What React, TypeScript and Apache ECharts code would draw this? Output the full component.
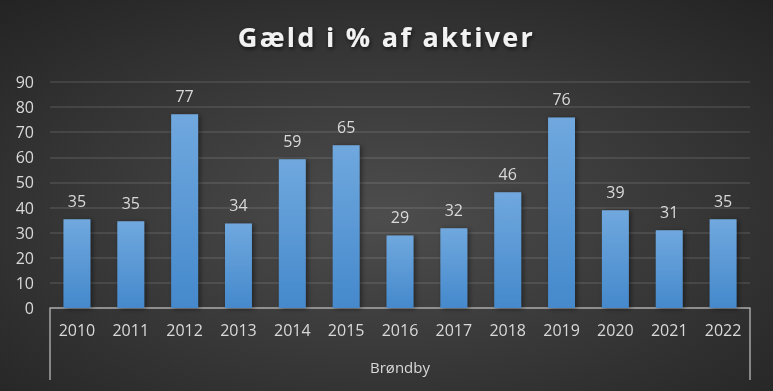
import React, { useEffect, useRef } from "react";
import * as echarts from "echarts";

const years = ["2010", "2011", "2012", "2013", "2014", "2015", "2016", "2017", "2018", "2019", "2020", "2021", "2022"];
const values = [35.3, 34.5, 77.2, 33.7, 59.2, 64.8, 28.9, 31.8, 46.1, 75.9, 38.9, 31.0, 35.3];
const groupLabel = ["Brøndby"];
const titleText = "Gæld i % af aktiver";

const FONT = "'Open Sans', 'Noto Sans', sans-serif";

export default function App() {
  const ref = useRef<HTMLDivElement>(null);
  useEffect(() => {
    if (!ref.current) return;
    const chart = echarts.init(ref.current, null, { renderer: "svg" });
    chart.setOption({
      animation: false,
      backgroundColor: {
        type: "radial",
        x: 0.5,
        y: 0.55,
        r: 0.75,
        colorStops: [
          { offset: 0, color: "#4d4d4d" },
          { offset: 1, color: "#232323" },
        ],
      },
      title: {
        text: titleText,
        left: "center",
        top: 18,
        textStyle: {
          color: "#f2f2f2",
          fontFamily: FONT,
          fontSize: 27,
          fontWeight: "bold",
          textShadowColor: "rgba(0,0,0,0.6)",
          textShadowBlur: 4,
          textShadowOffsetX: 1,
          textShadowOffsetY: 2,
        },
      },
      grid: { left: 50, right: 23, top: 82, bottom: 83, containLabel: false },
      xAxis: [
        {
          type: "category",
          data: years,
          position: "bottom",
          axisLine: { show: true, lineStyle: { color: "#a6a6a6", width: 1.5 } },
          axisTick: { show: false },
          axisLabel: { color: "#d9d9d9", fontFamily: FONT, fontSize: 16, margin: 14 },
        },
        {
          type: "category",
          data: groupLabel,
          position: "bottom",
          axisLine: { show: false },
          axisTick: { show: true, length: 72, lineStyle: { color: "#a6a6a6", width: 1.5 } },
          axisLabel: { color: "#d9d9d9", fontFamily: FONT, fontSize: 15, margin: 51 },
        },
      ],
      yAxis: {
        type: "value",
        min: 0,
        max: 90,
        interval: 10,
        axisLine: { show: false },
        axisTick: { show: false },
        axisLabel: { color: "#d9d9d9", fontFamily: FONT, fontSize: 16, margin: 16 },
        splitLine: { lineStyle: { color: "rgba(255,255,255,0.13)", width: 1.5 } },
      },
      series: [
        {
          type: "bar",
          xAxisIndex: 0,
          data: values,
          barWidth: "50%",
          itemStyle: {
            color: {
              type: "linear",
              x: 0,
              y: 0,
              x2: 0,
              y2: 1,
              colorStops: [
                { offset: 0, color: "#70a8de" },
                { offset: 1, color: "#4589cc" },
              ],
            },
            shadowColor: "rgba(0,0,0,0.45)",
            shadowBlur: 5,
            shadowOffsetX: 2,
            shadowOffsetY: 1,
          },
          label: {
            show: true,
            position: "top",
            distance: 10,
            color: "#d9d9d9",
            fontFamily: FONT,
            fontSize: 16,
            formatter: (p: any) => String(Math.round(p.value)),
          },
        },
      ],
    });
    return () => chart.dispose();
  }, []);
  return (
    <>
      <style>{`#root text[style*="27px"] { letter-spacing: 2.3px; }`}</style>
      <div ref={ref} style={{ position: "fixed", left: 0, top: 0, width: 773, height: 391 }} />
    </>
  );
}
